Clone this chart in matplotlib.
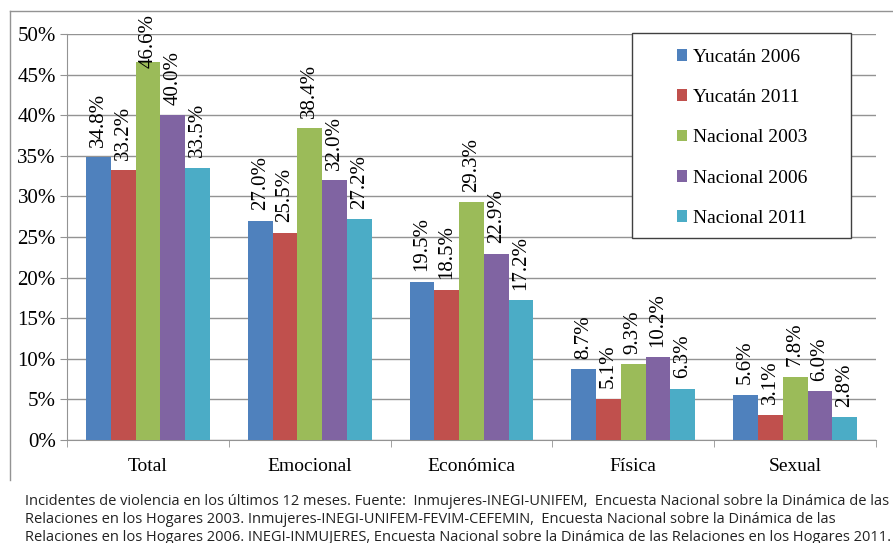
import numpy as np
import matplotlib
matplotlib.use('Agg')
import matplotlib.pyplot as plt
from matplotlib.patches import Rectangle
from matplotlib.lines import Line2D

# Tipos de violencia y porcentajes por encuesta
categorias = ['Total', 'Emocional', 'Económica', 'Física', 'Sexual']
series = ['Yucatán 2006', 'Yucatán 2011', 'Nacional 2003', 'Nacional 2006', 'Nacional 2011']
yucatan_2006 = [34.8, 27.0, 19.5, 8.7, 5.6]
yucatan_2011 = [33.2, 25.5, 18.5, 5.1, 3.1]
nacional_2003 = [46.6, 38.4, 29.3, 9.3, 7.8]
nacional_2006 = [40.0, 32.0, 22.9, 10.2, 6.0]
nacional_2011 = [33.5, 27.2, 17.2, 6.3, 2.8]
colores = ['#4F81BD', '#C0504D', '#9BBB59', '#8064A2', '#4BACC6']

nota = ("Incidentes de violencia en los últimos 12 meses. Fuente:  Inmujeres-INEGI-UNIFEM,  "
        "Encuesta Nacional sobre la Dinámica de las\n"
        "Relaciones en los Hogares 2003. Inmujeres-INEGI-UNIFEM-FEVIM-CEFEMIN,  "
        "Encuesta Nacional sobre la Dinámica de las\n"
        "Relaciones en los Hogares 2006. INEGI-INMUJERES, Encuesta Nacional sobre la "
        "Dinámica de las Relaciones en los Hogares 2011.")

plt.rcParams['font.family'] = ['Liberation Serif', 'DejaVu Serif']
gris = '#939393'

fig = plt.figure(figsize=(8.93, 5.43), dpi=100)
ax = fig.add_axes([0.075, 0.1897, 0.906, 0.7477])

datos = [yucatan_2006, yucatan_2011, nacional_2003, nacional_2006, nacional_2011]
x = np.arange(len(categorias))
ancho = 0.153
barras = []
for i, (vals, nombre, c) in enumerate(zip(datos, series, colores)):
    pos = x + (i - 2) * ancho
    b = ax.bar(pos, vals, width=ancho, color=c, label=nombre, zorder=3)
    barras.append(b)
    for xp, v in zip(pos, vals):
        # etiqueta vertical sobre la barra, sin salirse del marco
        y = min(v + 1.3, 45.8)
        ax.text(xp, y, f'{v:.1f}%', rotation=90, ha='center', va='bottom',
                fontsize=15, zorder=4, clip_on=False)

ax.set_xlim(-0.5, 4.5)
ax.set_ylim(0, 50)
ax.set_yticks(np.arange(0, 51, 5))
ax.set_yticklabels([f'{t}%' for t in range(0, 51, 5)], fontsize=15)
ax.set_xticks(x)
ax.set_xticklabels(categorias, fontsize=14)
ax.set_xticks(np.arange(-0.5, 5, 1), minor=True)
ax.tick_params(axis='x', which='major', length=0, pad=13)
ax.tick_params(axis='x', which='minor', length=5, color=gris, direction='out')
ax.tick_params(axis='y', length=5, color=gris, pad=3)
ax.yaxis.grid(True, color=gris, linewidth=1, zorder=0)
for lado in ['top', 'right']:
    ax.spines[lado].set_visible(False)
for lado in ['left', 'bottom']:
    ax.spines[lado].set_color(gris)

# Leyenda con recuadro propio
caja = Rectangle((632 / 893, 1 - 238 / 543), 219 / 893, 205 / 543, transform=fig.transFigure,
                 facecolor='white', edgecolor='#404040', linewidth=1, zorder=5)
fig.patches.append(caja)
leg = fig.legend(handles=barras, loc='center', bbox_to_anchor=(742 / 893, 1 - 138 / 543),
                 frameon=False, fontsize=14, handlelength=0.55, handleheight=0.55,
                 handletextpad=0.3, labelspacing=1.2)
leg.set_zorder(6)

# Marco exterior
fig.add_artist(Line2D([10 / 893, 10 / 893], [1 - 480 / 543, 1 - 11 / 543],
                      transform=fig.transFigure, color=gris, linewidth=1))
fig.add_artist(Line2D([10 / 893, 1], [1 - 11 / 543, 1 - 11 / 543],
                      transform=fig.transFigure, color=gris, linewidth=1))

fig.text(25 / 893, 1 - 494 / 543, nota, ha='left', va='top', fontsize=10.5,
         family=['Open Sans', 'DejaVu Sans'], linespacing=1.26, color='#222222')

fig.savefig('out.png', dpi=100)
